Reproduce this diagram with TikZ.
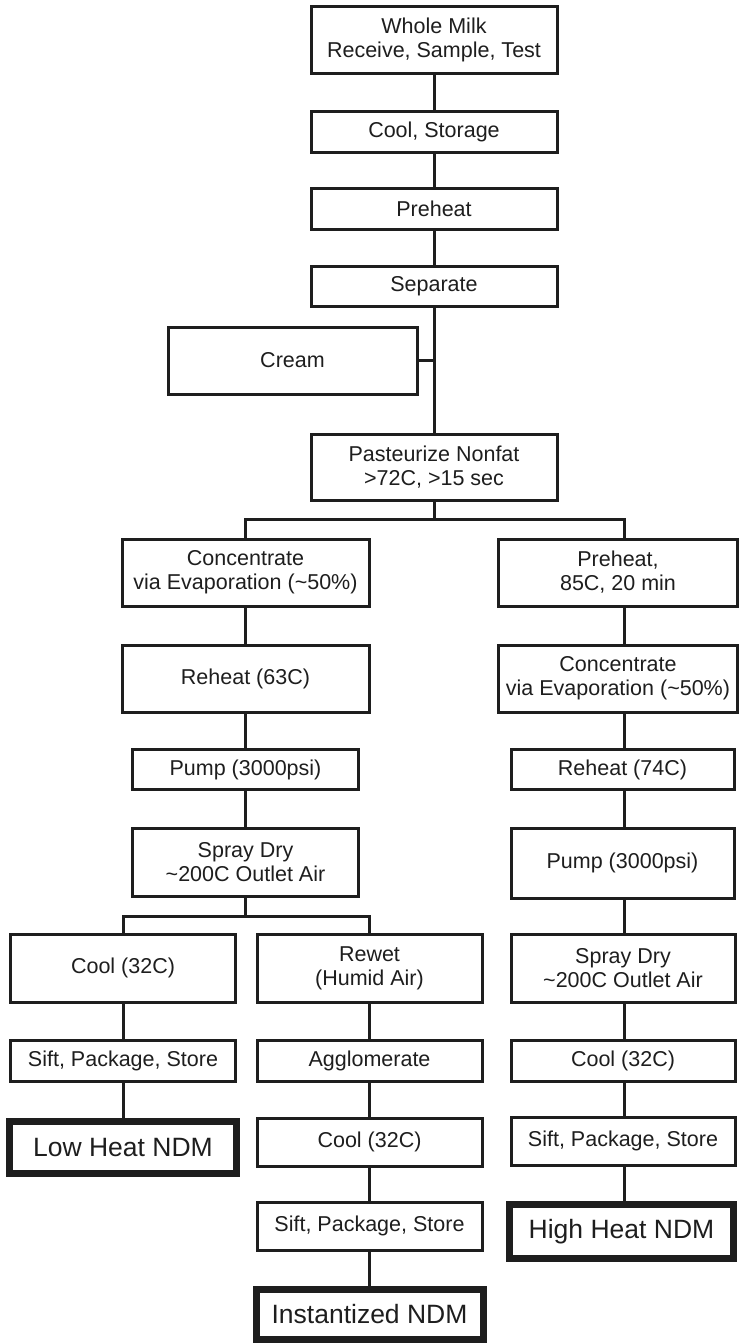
\documentclass[tikz,border=0pt]{standalone}
\usepackage{fontspec}
\setmainfont{Liberation Sans}
\definecolor{ink}{HTML}{1E1E1E}
\begin{document}
\begin{tikzpicture}[x=1pt,y=1pt,
  box/.style={draw=ink, line width=3pt, inner sep=0pt, align=center, text=ink,
    font=\fontsize{21.5}{24}\selectfont},
  endbox/.style={box, line width=7pt, font=\fontsize{26.5}{30}\selectfont},
  link/.style={draw=ink, line width=3pt}]
\useasboundingbox (0,0) rectangle (739,-1344);
\fill[white] (0,0) rectangle (739,-1344);
% main column
\node[box, minimum width=246pt, minimum height=67pt] (milk) at (434,-39.5) {Whole Milk\\Receive, Sample, Test};
\node[box, minimum width=246pt, minimum height=41pt] (cool) at (434,-131.5) {Cool, Storage};
\node[box, minimum width=246pt, minimum height=41pt] (preheat) at (434,-209) {Preheat};
\node[box, minimum width=246pt, minimum height=40pt] (sep) at (434,-286) {Separate};
\node[box, minimum width=249pt, minimum height=67pt] (cream) at (292.5,-360.5) {Cream};
\node[box, minimum width=246pt, minimum height=66pt] (past) at (434,-467) {Pasteurize Nonfat\\>72C, >15 sec};
% left column
\node[box, minimum width=247pt, minimum height=67pt] (concL) at (245.5,-572.5) {Concentrate\\via Evaporation (\textasciitilde 50\%)};
\node[box, minimum width=247pt, minimum height=67pt] (reheatL) at (245.5,-678.5) {Reheat (63C)};
\node[box, minimum width=226pt, minimum height=40pt] (pumpL) at (245.5,-769.5) {Pump (3000psi)};
\node[box, minimum width=226pt, minimum height=68pt] (sprayL) at (245.5,-862) {Spray Dry\\\textasciitilde 200C Outlet Air};
\node[box, minimum width=225pt, minimum height=68pt] (coolL) at (123,-968) {Cool (32C)};
\node[box, minimum width=225pt, minimum height=41pt] (siftL) at (123,-1060.5) {Sift, Package, Store};
\node[endbox, minimum width=227pt, minimum height=52pt] (low) at (123,-1147.5) {Low Heat NDM};
\node[box, minimum width=225pt, minimum height=68pt] (rewet) at (369.5,-968) {Rewet\\(Humid Air)};
\node[box, minimum width=225pt, minimum height=41pt] (agglo) at (369.5,-1060.5) {Agglomerate};
\node[box, minimum width=225pt, minimum height=48pt] (coolM) at (369.5,-1142) {Cool (32C)};
\node[box, minimum width=225pt, minimum height=48pt] (siftM) at (369.5,-1226) {Sift, Package, Store};
\node[endbox, minimum width=227pt, minimum height=50pt] (inst) at (369.5,-1314.5) {Instantized NDM};
% right column
\node[box, minimum width=239pt, minimum height=67pt] (preheatR) at (618,-572.5) {Preheat,\\85C, 20 min};
\node[box, minimum width=239pt, minimum height=67pt] (concR) at (618,-678.5) {Concentrate\\via Evaporation (\textasciitilde 50\%)};
\node[box, minimum width=223pt, minimum height=40pt] (reheatR) at (622.5,-769.5) {Reheat (74C)};
\node[box, minimum width=223pt, minimum height=70pt] (pumpR) at (622.5,-863) {Pump (3000psi)};
\node[box, minimum width=224pt, minimum height=68pt] (sprayR) at (623,-968) {Spray Dry\\\textasciitilde 200C Outlet Air};
\node[box, minimum width=224pt, minimum height=41pt] (coolR) at (623,-1060.5) {Cool (32C)};
\node[box, minimum width=224pt, minimum height=48pt] (siftR) at (623,-1141) {Sift, Package, Store};
\node[endbox, minimum width=224pt, minimum height=54pt] (high) at (621.5,-1231.5) {High Heat NDM};
% junction coordinates
\coordinate (b1) at (434,-519);
\coordinate (b1L) at (245.5,-519);
\coordinate (b1R) at (624,-519);
\coordinate (xR) at (624,0);
\coordinate (b2) at (245.5,-916);
\coordinate (b2L) at (123,-916);
\coordinate (b2R) at (369.5,-916);
% connectors
\draw[link] (milk) -- (cool);
\draw[link] (cool) -- (preheat);
\draw[link] (preheat) -- (sep);
\draw[link] (sep) -- (past);
\draw[link] (cream.east) -- (cream.east -| sep.south);
\draw[link] (past.south) -- (b1);
\draw[link] (concL.north) -- (b1L) -- (b1R) -- (b1R |- preheatR.north);
\draw[link] (concL) -- (reheatL);
\draw[link] (reheatL) -- (pumpL);
\draw[link] (pumpL) -- (sprayL);
\draw[link] (sprayL.south) -- (b2);
\draw[link] (coolL.north) -- (b2L) -- (b2R) -- (rewet.north);
\draw[link] (coolL) -- (siftL);
\draw[link] (siftL) -- (low);
\draw[link] (rewet) -- (agglo);
\draw[link] (agglo) -- (coolM);
\draw[link] (coolM) -- (siftM);
\draw[link] (siftM) -- (inst);
\draw[link] (xR |- preheatR.south) -- (xR |- concR.north);
\draw[link] (xR |- concR.south) -- (xR |- reheatR.north);
\draw[link] (xR |- reheatR.south) -- (xR |- pumpR.north);
\draw[link] (xR |- pumpR.south) -- (xR |- sprayR.north);
\draw[link] (xR |- sprayR.south) -- (xR |- coolR.north);
\draw[link] (xR |- coolR.south) -- (xR |- siftR.north);
\draw[link] (xR |- siftR.south) -- (xR |- high.north);
\end{tikzpicture}
\end{document}
